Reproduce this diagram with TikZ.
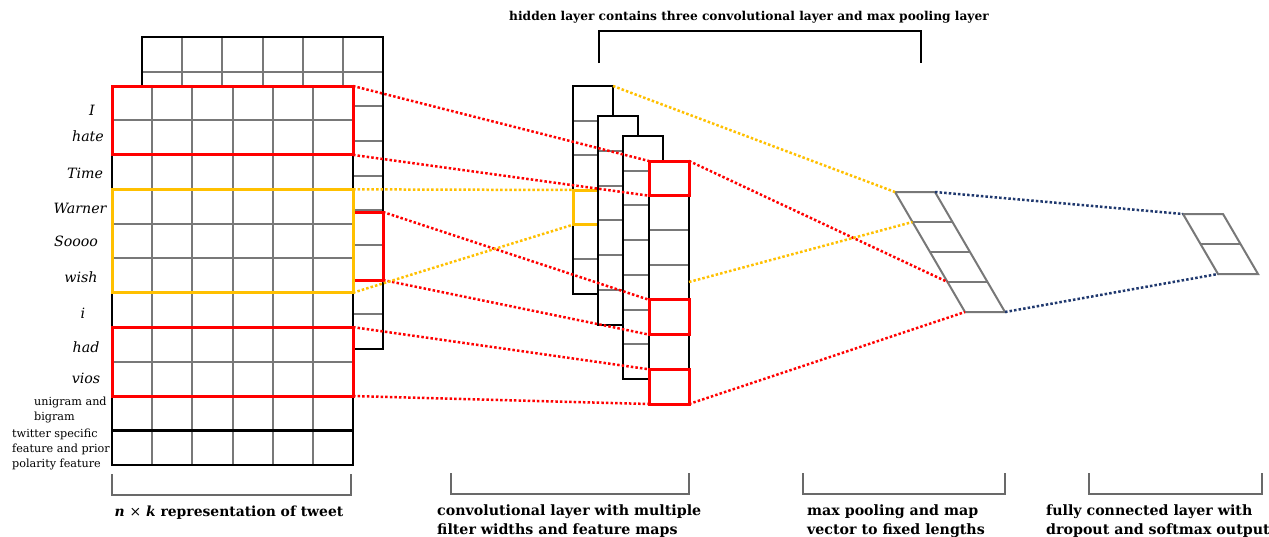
\documentclass[tikz,border=0pt]{standalone}
\usepackage{fontspec}
\setmainfont{DejaVu Serif}
\definecolor{myred}{RGB}{255,0,0}
\definecolor{myyellow}{RGB}{255,192,0}
\definecolor{mynavy}{RGB}{31,56,110}
\definecolor{gridgray}{RGB}{120,120,120}
\definecolor{brackgray}{RGB}{105,105,105}
\tikzset{
  gridline/.style={draw=gridgray, line width=2pt},
  frame/.style={draw=black, line width=2.3pt},
  redbox/.style={draw=myred, line width=3pt},
  yelbox/.style={draw=myyellow, line width=3pt},
  conn/.style={line width=2.5pt, dash pattern=on 2.5pt off 2.1pt},
  redconn/.style={conn, draw=myred},
  yelconn/.style={conn, draw=myyellow},
  navyconn/.style={conn, draw=mynavy},
  poolline/.style={draw=gridgray, line width=2pt},
  word/.style={font=\fontsize{14.2}{16}\selectfont\itshape, inner sep=0pt},
  smalltext/.style={font=\fontsize{11.2}{14.8}\selectfont, align=left, inner sep=0pt, anchor=north west},
  captiontext/.style={font=\fontsize{14.2}{18.5}\selectfont\bfseries, align=left, inner sep=0pt, anchor=north west},
  brack/.style={draw=brackgray, line width=1.6pt},
  topbrack/.style={draw=black, line width=2pt},
}
% conv column: x, top, number of cells, cell height
\newcommand\convcol[4]{%
  \fill[white] (#1,#2) rectangle ({#1+40},{#2+#3*#4});
  \pgfmathtruncatemacro\lastk{#3-1}%
  \foreach \k in {1,...,\lastk} \draw[gridline] (#1,{#2+\k*#4}) -- ({#1+40},{#2+\k*#4});
  \draw[frame] (#1,#2) rectangle ({#1+40},{#2+#3*#4});
}
\begin{document}
\begin{tikzpicture}[x=1pt,y=-1pt]
\useasboundingbox[fill=white] (0,0) rectangle (1269,536);

% ---------- back grid ----------
\fill[white] (142,37) rectangle (383,349);
\foreach \i in {1,...,5} \draw[gridline] ({142+\i*40.17},37) -- ({142+\i*40.17},349);
\foreach \j in {1,...,8} \draw[gridline] (142,{37+\j*34.67}) -- (383,{37+\j*34.67});
\draw[frame] (142,37) rectangle (383,349);
\draw[redbox] (353,212) rectangle (383,280);
\coordinate (brt) at (383,212);
\coordinate (brb) at (383,280);

% ---------- front grid ----------
\fill[white] (112,86) rectangle (353,465);
\foreach \i in {1,...,5} \draw[gridline] ({112+\i*40.17},86) -- ({112+\i*40.17},465);
\foreach \j in {1,...,10} \draw[gridline] (112,{86+\j*34.45}) -- (353,{86+\j*34.45});
\draw[frame] (112,86) rectangle (353,465);
\draw[frame] (112,430.5) -- (353,430.5);
\draw[redbox] (112,86) rectangle (353,154.9);
\draw[yelbox] (112,189.35) rectangle (353,292.7);
\draw[redbox] (112,327.15) rectangle (353,396.05);
\coordinate (f1tr) at (353,86);
\coordinate (f1br) at (353,154.9);
\coordinate (fytr) at (353,189.35);
\coordinate (fybr) at (353,292.7);
\coordinate (f2tr) at (353,327.15);
\coordinate (f2br) at (353,396.05);

% word labels
\node[word] (wI) at (92,110) {I};
\node[word] (whate) at (88,136) {hate};
\node[word] (wtime) at (85,173) {Time};
\node[word] (wwarner) at (80,208) {Warner};
\node[word] (wsoooo) at (76,241) {Soooo};
\node[word] (wwish) at (81,277) {wish};
\node[word] (wi) at (83,313) {i};
\node[word] (whad) at (86,347) {had};
\node[word] (wvios) at (86,378) {vios};
\node[smalltext] (uni) at (34,397) {unigram and\\bigram};
\node[smalltext] (tws) at (12,429) {twitter specific\\feature and prior\\polarity feature};

% ---------- convolution columns ----------
\convcol{573}{86}{6}{34.67}
\draw[yelbox] (573,190) rectangle (613,224.7);
\convcol{598}{116}{6}{34.83}
\convcol{623}{136}{7}{34.71}
\convcol{649}{161}{7}{34.71}
\draw[redbox] (649,161) rectangle (689,195.7);
\draw[redbox] (649,299.8) rectangle (689,334.6);
\draw[redbox] (649,369.3) rectangle (689,404);
\coordinate (yTL) at (573,190);
\coordinate (yBL) at (573,224.7);
\coordinate (c1tr) at (613,86);
\coordinate (r1tl) at (649,161);
\coordinate (r1bl) at (649,195.7);
\coordinate (r1tr) at (689,161);
\coordinate (r2tl) at (649,299.8);
\coordinate (r2bl) at (649,334.6);
\coordinate (r3tl) at (649,369.3);
\coordinate (r3bl) at (649,404);
\coordinate (r3br) at (689,404);
\coordinate (c4y) at (689,282);

% ---------- max pooling ----------
\coordinate (p0) at (895,192);
\coordinate (p0r) at (935,192);
\coordinate (p1) at (912.5,222);
\coordinate (p3) at (947.5,282);
\coordinate (p4) at (965,312);
\coordinate (p4r) at (1005,312);
\draw[poolline] (p0) -- (p0r) -- (p4r) -- (p4) -- cycle;
\foreach \k in {1,2,3} \draw[poolline] ({895+\k*17.5},{192+\k*30}) -- ({935+\k*17.5},{192+\k*30});

% ---------- fully connected ----------
\coordinate (q0) at (1183,214);
\coordinate (q0r) at (1223,214);
\coordinate (q2) at (1218,274);
\coordinate (q2r) at (1258,274);
\draw[poolline] (q0) -- (q0r) -- (q2r) -- (q2) -- cycle;
\draw[poolline] (1200.5,244) -- (1240.5,244);

% ---------- connectors ----------
\draw[redconn] (f1tr) -- (r1tl);
\draw[redconn] (f1br) -- (r1bl);
\draw[redconn] (brt) -- (r2tl);
\draw[redconn] (brb) -- (r2bl);
\draw[redconn] (f2tr) -- (r3tl);
\draw[redconn] (f2br) -- (r3bl);
\draw[redconn] (r1tr) -- (p3);
\draw[redconn] (r3br) -- (p4);
\draw[yelconn] (fytr) -- (yTL);
\draw[yelconn] (fybr) -- (yBL);
\draw[yelconn] (c1tr) -- (p0);
\draw[yelconn] (c4y) -- (p1);
\draw[navyconn] (p0r) -- (q0);
\draw[navyconn] (p4r) -- (q2);

% ---------- brackets and captions ----------
\draw[topbrack] (599,63) -- (599,31) -- (921,31) -- (921,63);
\node[font=\fontsize{12.2}{14}\selectfont\bfseries, inner sep=0pt] (toptext) at (749,17) {hidden layer contains three convolutional layer and max pooling layer};

\draw[brack] (112,474) -- (112,495) -- (351,495) -- (351,474);
\draw[brack] (451,473) -- (451,494) -- (689,494) -- (689,473);
\draw[brack] (803,473) -- (803,494) -- (1005,494) -- (1005,473);
\draw[brack] (1089,473) -- (1089,494) -- (1262,494) -- (1262,473);

\node[font=\fontsize{13.9}{19}\selectfont\bfseries, inner sep=0pt] (cap1) at (229,513) {\textit{n} {\mdseries×} \textit{k} representation of tweet};
\node[captiontext] (cap2) at (437,505) {convolutional layer with multiple\\filter widths and feature maps};
\node[captiontext] (cap3) at (807,505) {max pooling and map\\vector to fixed lengths};
\node[captiontext] (cap4) at (1046,505) {fully connected layer with\\dropout and softmax output};
\end{tikzpicture}
\end{document}
